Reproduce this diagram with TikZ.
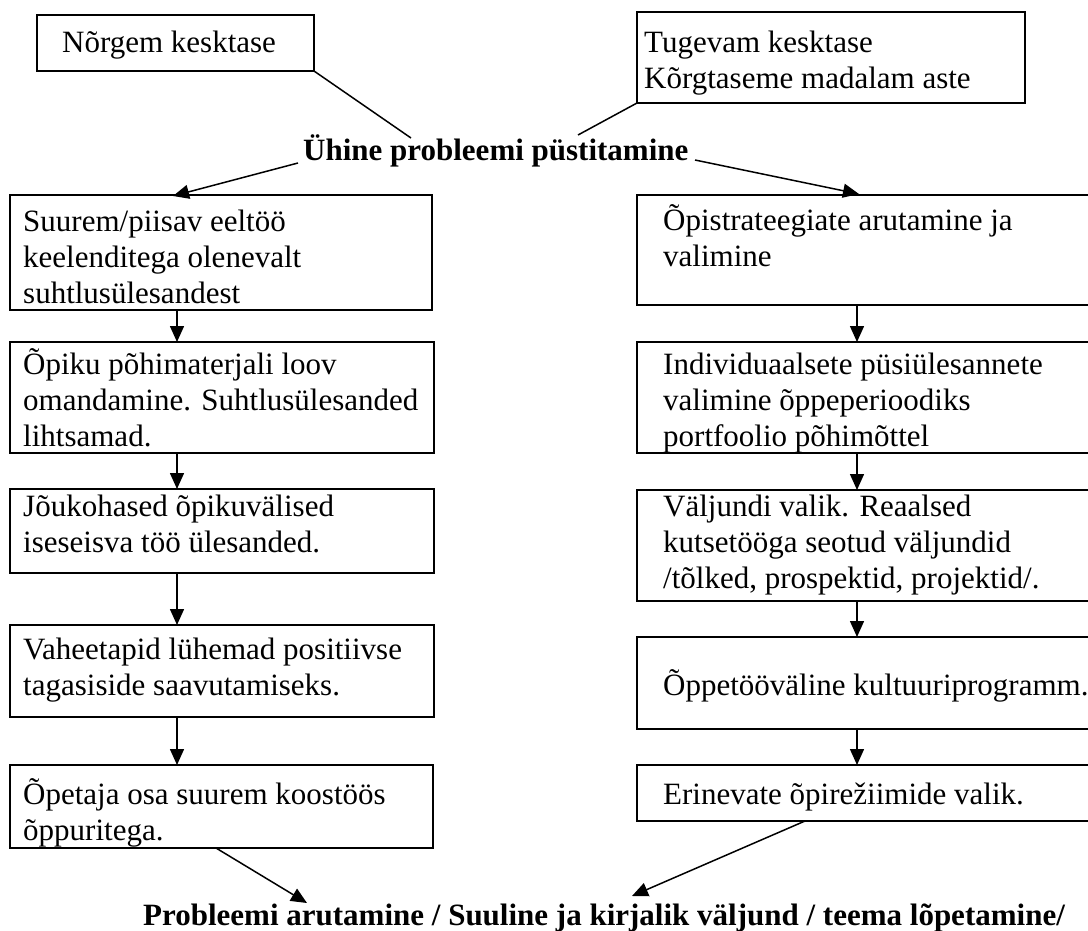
\documentclass[tikz,border=0pt]{standalone}
\usepackage{fontspec}
\setmainfont{Liberation Serif}
\usetikzlibrary{arrows.meta}
\newcommand\mylines[1]{\begin{tabular}[t]{@{}l@{}}#1\end{tabular}}
\newcommand\mybox[5]{\node[box, minimum width={(#4-#2)*1pt}, minimum height={(#5-#3)*1pt}] (#1) at (#2,#3) {};}
\begin{document}
\begin{tikzpicture}[x=1pt,y=-1pt,
  box/.style={draw, line width=2pt, rectangle, inner sep=0pt, outer sep=0pt, anchor=north west},
  txt/.style={inner sep=0pt, anchor=base west, font=\fontsize{31}{36}\selectfont},
  bold/.style={inner sep=0pt, anchor=base west, font=\fontsize{31}{36}\selectfont\bfseries},
  conn/.style={line width=1.5pt},
  arr/.style={line width=1.5pt, -{Triangle[length=16pt,width=14pt]}}]
\useasboundingbox (0,0) rectangle (1088,930);
% top boxes
\mybox{N}{37}{15}{314}{71}
\node[txt] (Nt) at (62,52) {Nõrgem kesktase};
\mybox{G}{637}{12}{1025}{103}
\node[txt] (Gt) at (644,52) {\mylines{Tugevam kesktase\\Kõrgtaseme madalam aste}};
% title
\node[bold] (T) at (303,160) {Ühine probleemi püstitamine};
\coordinate (ta) at (411,138);
\coordinate (tb) at (578,135);
\coordinate (tl) at (298,163);
\coordinate (tr) at (695,160);
\draw[conn] (N.south east) -- (ta);
\draw[conn] (G.south west) -- (tb);
% left column
\mybox{L1}{10}{195}{432}{310}
\mybox{L2}{10}{342}{434}{453}
\mybox{L3}{10}{489}{434}{573}
\mybox{L4}{10}{625}{434}{717}
\mybox{L5}{10}{765}{433}{848}
\node[txt] (L1t) at (23,231) {\mylines{Suurem/piisav eeltöö\\keelenditega olenevalt\\suhtlusülesandest}};
\node[txt] (L2t) at (23,374) {\mylines{Õpiku põhimaterjali loov\\omandamine. Suhtlusülesanded\\lihtsamad.}};
\node[txt] (L3t) at (23,516) {\mylines{Jõukohased õpikuvälised\\iseseisva töö ülesanded.}};
\node[txt] (L4t) at (23,659) {\mylines{Vaheetapid lühemad positiivse\\tagasiside saavutamiseks.}};
\node[txt] (L5t) at (23,804) {\mylines{Õpetaja osa suurem koostöös\\õppuritega.}};
% right column
\mybox{R1}{637}{195}{1092}{305}
\mybox{R2}{637}{342}{1092}{453}
\mybox{R3}{637}{490}{1092}{601}
\mybox{R4}{637}{637}{1092}{729}
\mybox{R5}{637}{765}{1092}{821}
\node[txt] (R1t) at (663,230) {\mylines{Õpistrateegiate arutamine ja\\valimine}};
\node[txt] (R2t) at (663,374) {\mylines{Individuaalsete püsiülesannete\\valimine õppeperioodiks\\portfoolio põhimõttel}};
\node[txt] (R3t) at (663,516) {\mylines{Väljundi valik. Reaalsed\\kutsetööga seotud väljundid\\/tõlked, prospektid, projektid/.}};
\node[txt] (R4t) at (663,695) {Õppetööväline kultuuriprogramm.};
\node[txt] (R5t) at (663,804) {Erinevate õpirežiimide valik.};
% arrows from title
\draw[arr] (tl) -- (173,196);
\draw[arr] (tr) -- (859,194);
% vertical arrows
\coordinate (xl) at (177,0);
\coordinate (xr) at (857,0);
\draw[arr] (L1.south -| xl) -- (L2.north -| xl);
\draw[arr] (L2.south -| xl) -- (L3.north -| xl);
\draw[arr] (L3.south -| xl) -- (L4.north -| xl);
\draw[arr] (L4.south -| xl) -- (L5.north -| xl);
\draw[arr] (R1.south -| xr) -- (R2.north -| xr);
\draw[arr] (R2.south -| xr) -- (R3.north -| xr);
\draw[arr] (R3.south -| xr) -- (R4.north -| xr);
\draw[arr] (R4.south -| xr) -- (R5.north -| xr);
% bottom
\node[bold] (B) at (143,925) {Probleemi arutamine / Suuline ja kirjalik väljund / teema lõpetamine/};
\coordinate (bl0) at (216,848);
\coordinate (bl) at (307,903);
\coordinate (br0) at (805,821);
\coordinate (br) at (632,896);
\draw[arr] (bl0) -- (bl);
\draw[arr] (br0) -- (br);
\end{tikzpicture}
\end{document}
